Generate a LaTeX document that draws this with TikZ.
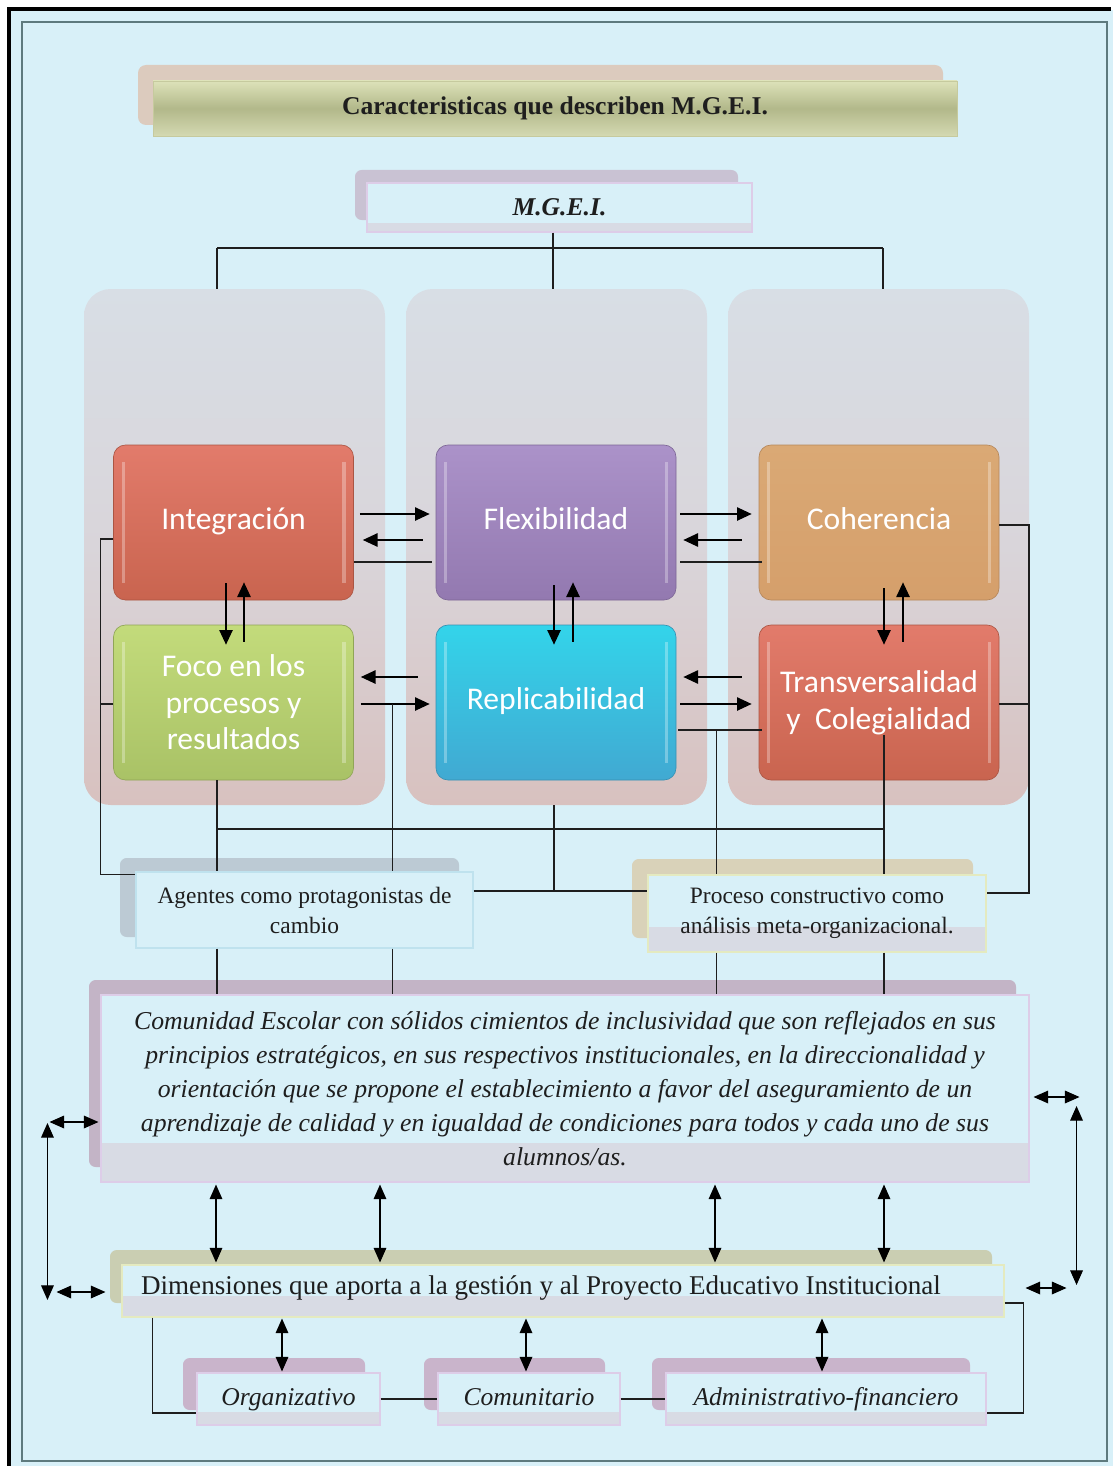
\documentclass[tikz,border=0pt]{standalone}
\usepackage{fontspec}
\setmainfont{Liberation Serif}
\newfontfamily\boxfont{Carlito}
\usetikzlibrary{arrows.meta,calc,shadings}

% palette
\definecolor{bg}{HTML}{D8F0F8}
\definecolor{frm}{HTML}{5E7A7E}
\definecolor{ttlshd}{HTML}{DCCBBE}
\definecolor{ttlA}{HTML}{DDE2B9}
\definecolor{ttlB}{HTML}{B2B88A}
\definecolor{ttlbd}{HTML}{C6CA9E}
\definecolor{mgshd}{HTML}{C9C2D3}
\definecolor{lav}{HTML}{DDCDE8}
\definecolor{stripc}{HTML}{D8DBE4}
\definecolor{pTop}{HTML}{D8DEE5}
\definecolor{pMid}{HTML}{D9D5DA}
\definecolor{pBot}{HTML}{D8C1BF}
\definecolor{agshd}{HTML}{BCCAD4}
\definecolor{agbd}{HTML}{BFE2EE}
\definecolor{prshd}{HTML}{D9D2B9}
\definecolor{ylbd}{HTML}{E4EAC0}
\definecolor{coshd}{HTML}{C3B4C6}
\definecolor{dmshd}{HTML}{CACEB2}
\definecolor{sbshd}{HTML}{C9B4CB}
\definecolor{txt}{HTML}{1E1E1E}
% glossy box colours
\definecolor{redT}{HTML}{E27B6B}\definecolor{redB}{HTML}{C9644F}
\definecolor{purT}{HTML}{AB92C9}\definecolor{purB}{HTML}{9379B0}
\definecolor{orgT}{HTML}{DAA975}\definecolor{orgB}{HTML}{D59F6B}
\definecolor{grnT}{HTML}{C3DB7B}\definecolor{grnB}{HTML}{A9C266}
\definecolor{cyaT}{HTML}{33D4EA}\definecolor{cyaB}{HTML}{41A9D2}

\begin{document}
\begin{tikzpicture}[x=0.75pt,y=-0.75pt,
  ln/.style={draw=txt,line width=0.8pt},
  lnb/.style={draw=txt,line width=1.3pt},
  arr/.style={draw=black,line width=1.1pt,-{Triangle[length=11pt,width=10pt]}},
  dbl/.style={draw=black,line width=0.9pt,{Triangle[length=11pt,width=9.5pt]}-{Triangle[length=11pt,width=9.5pt]}},
  gloss/.style={path picture={
     \fill[white,opacity=.3,sharp corners] ($(path picture bounding box.north west)+(6pt,-13pt)$) rectangle ($(path picture bounding box.south west)+(8.5pt,13pt)$);
     \fill[white,opacity=.3,sharp corners] ($(path picture bounding box.north east)+(-8.5pt,-13pt)$) rectangle ($(path picture bounding box.south east)+(-6pt,13pt)$);}},
  cbox/.style 2 args={rounded corners=9pt, minimum width=180pt, minimum height=116.25pt,
     inner sep=0pt, align=center, text=white, top color=#1, bottom color=#2,
     draw=#2!85!black, line width=0.5pt, gloss,
     font=\boxfont\fontsize{23.7}{27.4}\selectfont},
  oneline/.style={text height=16pt, text depth=5pt},
  pnl/.style={rounded corners=20pt, minimum width=225.75pt, minimum height=387pt,
     top color=pTop, bottom color=pBot, middle color=pMid, draw=none, inner sep=0pt},
  strip/.style={path picture={\fill[stripc] ($(path picture bounding box.south west)+(0pt,#1)$) rectangle (path picture bounding box.south east);}},
  tbox/.style={fill=bg, inner sep=0pt, align=center, text=txt, line width=0.8pt}
]
\useasboundingbox (0,0) rectangle (1113,1466);

% page background and frame
\fill[white] (0,0) rectangle (1113,1466);
\fill[bg] (10,10) rectangle (1113,1466);
\draw[black,line width=2.4pt] (9,1466) -- (9,9) -- (1111,9);
\draw[frm,line width=0.9pt] (22,22) rectangle (1107,1461);

% title
\fill[ttlshd,rounded corners=6pt] (138,65) rectangle (943,125);
\node[draw=ttlbd, line width=0.6pt, top color=ttlA, bottom color=ttlA!96!black, middle color=ttlB,
      minimum width=603pt, minimum height=41.25pt, inner sep=0pt, text=txt,
      font=\bfseries\fontsize{19.2}{22}\selectfont] (ttl) at (555,108.5) {Caracteristicas que describen M.G.E.I.};

% M.G.E.I.
\fill[mgshd,rounded corners=5pt] (355,170) rectangle (738,220);
\node[tbox, draw=lav, strip=6.75pt, minimum width=288.75pt, minimum height=36.75pt,
      font=\bfseries\itshape\fontsize{19.2}{22}\selectfont] (mgei) at (559.5,207.5) {M.G.E.I.};

% three column panels
\node[pnl] (pn1) at (234.5,547) {};
\node[pnl] (pn2) at (556.5,547) {};
\node[pnl] (pn3) at (878.5,547) {};

% characteristic boxes
\node[cbox={redT}{redB}, oneline] (int) at (233.5,522.5) {Integración};
\node[cbox={purT}{purB}, oneline] (flx) at (556,522.5) {Flexibilidad};
\node[cbox={orgT}{orgB}, oneline] (coh) at (879,522.5) {Coherencia};
\node[cbox={grnT}{grnB}] (foc) at (233.5,702.5) {Foco en los\\procesos y\\resultados};
\node[cbox={cyaT}{cyaB}, oneline] (rep) at (556,702.5) {Replicabilidad};
\node[cbox={redT}{redB}] (trv) at (879,702.5) {Transversalidad\\y~~Colegialidad};

% tree from M.G.E.I. to the columns
\coordinate (hl) at (217,248);
\coordinate (hm) at (553,248);
\coordinate (hr) at (883,248);
\draw[ln] (hm |- mgei.south) -- (hm);
\draw[lnb] (hl) -- (hr);
\draw[ln] (hl) -- (hl |- pn1.north);
\draw[ln] (hm) -- (hm |- pn2.north);
\draw[ln] (hr) -- (hr |- pn3.north);

% second-level boxes
\fill[agshd,rounded corners=5pt] (120,858) rectangle (459,937);
\node[tbox, draw=agbd, minimum width=252.75pt, minimum height=57pt,
      font=\fontsize{17.6}{22.5}\selectfont] (agt) at (304.5,910) {Agentes como protagonistas de\\cambio};
\fill[prshd,rounded corners=5pt] (632,859) rectangle (973,938);
\node[tbox, draw=ylbd, strip=18.75pt, minimum width=253.5pt, minimum height=57.75pt,
      font=\fontsize{17.6}{22.5}\selectfont] (prc) at (817,913.5) {Proceso constructivo como\\análisis meta-organizacional.};

% school community
\fill[coshd,rounded corners=5pt] (89,980) rectangle (1016,1167);
\node[tbox, draw=lav, strip=29.25pt, minimum width=696pt, minimum height=140.25pt,
      font=\itshape\fontsize{19.3}{25.5}\selectfont] (com) at (565,1088.5)
 {Comunidad Escolar con sólidos cimientos de inclusividad que son reflejados en sus\\
  principios estratégicos, en sus respectivos institucionales, en la direccionalidad y\\
  orientación que se propone el establecimiento a favor del aseguramiento de un\\
  aprendizaje de calidad y en igualdad de condiciones para todos y cada uno de sus\\
  alumnos/as.};

% dimensions
\fill[dmshd,rounded corners=5pt] (110,1250) rectangle (992,1303);
\node[tbox, draw=ylbd, strip=15.75pt, minimum width=661.5pt, minimum height=39pt] (dim) at (563,1291) {};
\node[text=txt, inner sep=0pt, font=\fontsize{20.3}{24}\selectfont] (dimtxt) at (541,1288)
 {Dimensiones que aporta a la gestión y al Proyecto Educativo Institucional};

\fill[sbshd,rounded corners=5pt] (183,1358) rectangle (365,1410);
\fill[sbshd,rounded corners=5pt] (424,1358) rectangle (605,1410);
\fill[sbshd,rounded corners=5pt] (652,1358) rectangle (970,1410);
\begin{scope}[every node/.style={tbox, draw=lav, strip=9.75pt, minimum height=39pt,
      text height=13.5pt, text depth=4.5pt, font=\itshape\fontsize{19.2}{22}\selectfont}]
\node[minimum width=137.25pt] (org) at (288.5,1399) {Organizativo};
\node[minimum width=136.5pt] (cmt) at (529,1399) {Comunitario};
\node[minimum width=240pt] (adm) at (826,1399) {Administrativo-financiero};
\end{scope}

% arrows between the characteristic boxes
\draw[arr] ($(int.east)+(6,-8.5)$) -- ($(flx.west)+(-6,-8.5)$);
\draw[arr] ($(flx.west)+(-13,17.5)$) -- ($(int.east)+(9,17.5)$);
\draw[lnb] ($(int.east)+(0,39.5)$) -- ($(flx.west)+(-4,39.5)$);
\draw[arr] ($(flx.east)+(4,-8.5)$) -- ($(coh.west)+(-7,-8.5)$);
\draw[arr] ($(coh.west)+(-17,17.5)$) -- ($(flx.east)+(7,17.5)$);
\draw[lnb] ($(flx.east)+(4,39.5)$) -- ($(coh.west)+(3,39.5)$);

\draw[arr] ($(int.south)+(-7.5,-17)$) -- ($(foc.north)+(-7.5,20)$);
\draw[arr] ($(foc.north)+(10.5,17)$) -- ($(int.south)+(10.5,-18)$);
\draw[arr] ($(flx.south)+(-2,-15)$) -- ($(rep.north)+(-2,20)$);
\draw[arr] ($(rep.north)+(17,17)$) -- ($(flx.south)+(17,-18)$);
\draw[arr] ($(coh.south)+(5,-12)$) -- ($(trv.north)+(5,20)$);
\draw[arr] ($(trv.north)+(24,17)$) -- ($(coh.south)+(24,-18)$);

\draw[arr] ($(rep.west)+(-18,-25.5)$) -- ($(foc.east)+(7,-25.5)$);
\draw[arr] ($(foc.east)+(7,1.5)$) -- ($(rep.west)+(-6,1.5)$);
\draw[arr] ($(trv.west)+(-17,-25.5)$) -- ($(rep.east)+(7,-25.5)$);
\draw[arr] ($(rep.east)+(4,1.5)$) -- ($(trv.west)+(-7,1.5)$);
\draw[ln] ($(rep.east)+(2,27.5)$) -- ($(trv.west)+(3,27.5)$);

% links down to the second-level boxes
\coordinate (lA) at ($(int.west)+(-13,16.5)$);
\draw[ln] ($(int.west)+(0,16.5)$) -- (lA) -- ($(lA |- agt.north west)+(0,3)$) -- ($(agt.north west)+(0,3)$);
\draw[ln] ($(foc.west)+(0,1.5)$) -- ($(foc.west)+(-13,1.5)$);

\coordinate (v0) at ($(foc.south)+(-16.5,0)$);
\coordinate (v1) at ($(foc.east)+(38.5,1.5)$);
\coordinate (v3) at ($(rep.east)+(40,27.5)$);
\coordinate (v4) at ($(trv.south)+(5,-45)$);
\coordinate (hy) at (0,829);
\draw[ln] (v0) -- (v0 |- agt.north);
\draw[ln] (v1) -- (v1 |- agt.north);
\draw[ln] (v3) -- (v3 |- prc.north);
\draw[ln] (v4) -- (v4 |- prc.north);
\draw[lnb] (v0 |- hy) -- (v4 |- hy);

\coordinate (cm) at ($(agt.east)+(0,-19)$);
\coordinate (c554) at (554,0);
\draw[lnb] (cm) -- (cm -| prc.west);
\draw[ln] (c554 |- pn2.south) -- (c554 |- cm);

\coordinate (rA) at ($(coh.east)+(30,2.5)$);
\coordinate (rB) at ($(prc.east)+(0,-20.5)$);
\draw[lnb] ($(coh.east)+(0,2.5)$) -- (rA) -- (rA |- rB) -- (rB);
\draw[ln] ($(trv.east)+(0,1.5)$) -- ($(trv.east)+(30,1.5)$);

% links down to the community box
\draw[ln] (v0 |- agt.south) -- (v0 |- com.north);
\draw[ln] (v1 |- agt.south) -- (v1 |- com.north);
\draw[ln] (v3 |- prc.south) -- (v3 |- com.north);
\draw[ln] (v4 |- prc.south) -- (v4 |- com.north);

% community <-> dimensions
\foreach \x in {216,380,715,884}{
  \coordinate (t) at (\x,0);
  \draw[dbl] ($(t |- com.south)+(0,2)$) -- ($(t |- dim.north)+(0,-2)$);
}
\coordinate (L1) at ($(com.west)+(-51,33.5)$);
\coordinate (L2) at ($(dim.west)+(-74,9)$);
\draw[dbl] (L1) -- ($(com.west)+(-2,33.5)$);
\draw[dbl] ($(L1)+(-2,1)$) -- (L2);
\draw[dbl] ($(dim.west)+(-65,1)$) -- ($(dim.west)+(-16,1)$);
\draw[dbl] ($(com.east)+(4,8.5)$) -- ($(com.east)+(50,8.5)$);
\draw[dbl] ($(com.east)+(47,17.5)$) -- ($(dim.east)+(72,-6)$);
\draw[dbl] ($(dim.east)+(21,-3)$) -- ($(dim.east)+(62,-3)$);

% dimensions <-> sub-dimensions
\draw[dbl] ($(org.north |- dim.south)+(-6.5,1)$) -- ($(org.north)+(-6.5,-1)$);
\draw[dbl] ($(cmt.north |- dim.south)+(-3,1)$) -- ($(cmt.north)+(-3,-1)$);
\draw[dbl] ($(adm.north |- dim.south)+(-4,1)$) -- ($(adm.north)+(-4,-1)$);

\coordinate (bL) at ($(dim.south west)+(31,0)$);
\draw[ln] (bL) -- ($(bL |- org.west)+(0,14)$) -- ($(org.west)+(0,14)$);
\draw[ln] (org.east) -- (cmt.west);
\draw[ln] (cmt.east) -- (adm.west);
\coordinate (bR) at ($(dim.east)+(19,12)$);
\draw[ln] ($(dim.east)+(0,12)$) -- (bR) -- ($(bR |- adm.east)+(0,14)$) -- ($(adm.east)+(0,14)$);
\end{tikzpicture}
\end{document}
